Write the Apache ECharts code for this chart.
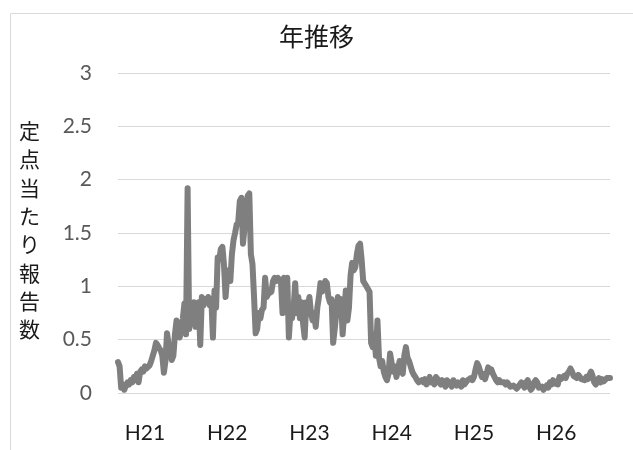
<!DOCTYPE html>
<html><head><meta charset="utf-8">
<script src="https://cdn.jsdelivr.net/npm/echarts@6/dist/echarts.min.js"></script>
<style>html,body{margin:0;padding:0;background:#fff}#c{width:633px;height:450px}</style>
</head><body><div id="c"></div>
<script>
const yearLabels = ['H21','H22','H23','H24','H25','H26'];
const weeksPerYear = 52;
const labelOffset = 17;
const yTicks = [0, 0.5, 1, 1.5, 2, 2.5, 3];
const valuesY1 = [0.29,0.25,0.05,0.08,0.03,0.07,0.1,0.08,0.12,0.1,0.15,0.12,0.18,0.1,0.2,0.22,0.2,0.25,0.23,0.22,0.26,0.3,0.35,0.4,0.47,0.45,0.42,0.4,0.35,0.19,0.3,0.56,0.45,0.4,0.31,0.35,0.55,0.68,0.58,0.52,0.6,0.7,0.84,0.55,1.92,0.6,0.8,0.65,0.85,0.62,0.78,0.85];
const valuesY2 = [0.45,0.9,0.82,0.88,0.85,0.9,0.82,0.88,0.52,0.96,0.8,1.27,1.25,1.35,1.37,1.2,0.9,1.1,1.15,1.05,1.3,1.43,1.5,1.58,1.6,1.8,1.83,1.4,1.55,1.7,1.85,1.87,1.3,1.21,0.9,0.56,0.6,0.75,0.7,0.78,0.8,1.08,0.9,0.93,0.92,0.95,1.05,1.08,1.05,1.08,1.07,1.05];
const valuesY3 = [0.75,1.08,1.05,1.08,0.52,0.75,0.7,0.8,1.03,0.75,0.9,0.7,0.85,0.65,0.52,0.85,0.8,0.9,0.75,0.68,0.75,0.62,0.8,0.9,1.03,0.95,1.0,1.05,1.03,0.9,0.85,0.88,0.47,0.6,0.75,0.9,0.85,0.88,0.55,0.75,0.96,0.68,0.8,1.1,1.22,1.15,1.18,1.3,1.38,1.4,1.25,1.05];
const valuesY4 = [1.05,1.0,1.0,0.95,0.47,0.43,0.55,0.35,0.68,0.33,0.25,0.3,0.2,0.15,0.12,0.18,0.37,0.28,0.2,0.25,0.15,0.22,0.3,0.22,0.18,0.35,0.43,0.33,0.3,0.25,0.2,0.17,0.15,0.12,0.1,0.1,0.12,0.1,0.13,0.08,0.12,0.15,0.1,0.12,0.08,0.15,0.13,0.1,0.08,0.12,0.1,0.06];
const valuesY5 = [0.12,0.08,0.1,0.06,0.12,0.09,0.07,0.1,0.11,0.06,0.12,0.08,0.1,0.12,0.13,0.14,0.12,0.15,0.22,0.28,0.25,0.2,0.15,0.18,0.13,0.18,0.24,0.2,0.22,0.18,0.15,0.12,0.1,0.12,0.1,0.09,0.1,0.08,0.1,0.08,0.06,0.05,0.07,0.06,0.04,0.06,0.08,0.1,0.07,0.05,0.1,0.12];
const valuesY6 = [0.06,0.03,0.05,0.1,0.12,0.1,0.05,0.04,0.06,0.03,0.05,0.07,0.05,0.1,0.08,0.12,0.09,0.1,0.08,0.15,0.13,0.12,0.16,0.14,0.18,0.2,0.23,0.2,0.16,0.15,0.14,0.17,0.15,0.13,0.14,0.12,0.15,0.13,0.17,0.2,0.16,0.1,0.08,0.12,0.14,0.1,0.13,0.11,0.12,0.14,0.13,0.14];

const values = [].concat(valuesY1, valuesY2, valuesY3, valuesY4, valuesY5, valuesY6);
const categories = [];
yearLabels.forEach(y => { for (let w = 0; w < weeksPerYear; w++) categories.push(y + '-' + (w + 1)); });

const chart = echarts.init(document.getElementById('c'), null, {renderer: 'canvas'});
chart.setOption({
  animation: false,
  backgroundColor: '#fff',
  title: {
    text: '年推移', left: 'center', top: 19,
    textStyle: {fontFamily: "'Noto Sans CJK JP'", fontSize: 25, fontWeight: 'normal', color: '#1a1a1a'}
  },
  graphic: [
    {type: 'rect', left: 8, top: 11, shape: {width: 700, height: 500}, style: {fill: 'none', stroke: '#d9d9d9', lineWidth: 1}, z: -1},
    {type: 'text', left: 19, top: 117, style: {text: '定\n点\n当\nた\nり\n報\n告\n数', font: "21px 'Noto Sans CJK JP'", lineHeight: 28.3, fill: '#1a1a1a', textAlign: 'left'}}
  ],
  grid: {left: 118, right: 23, top: 73, bottom: 57},
  xAxis: {
    type: 'category', data: categories, boundaryGap: false,
    axisLine: {show: false}, axisTick: {show: false}, splitLine: {show: false},
    axisLabel: {
      interval: (i) => i % weeksPerYear === labelOffset,
      formatter: (v) => v.split('-')[0],
      margin: 30, fontSize: 21, color: '#1a1a1a', fontFamily: "Lato, 'Noto Sans CJK JP'"
    }
  },
  yAxis: {
    type: 'value', min: yTicks[0], max: yTicks[yTicks.length - 1], interval: 0.5,
    axisLine: {show: false}, axisTick: {show: false},
    splitLine: {lineStyle: {color: '#d9d9d9', width: 1}},
    axisLabel: {margin: 26, fontSize: 21, color: '#595959', fontFamily: "Lato, 'Noto Sans CJK JP'"}
  },
  series: [{
    type: 'line', data: values, showSymbol: false,
    lineStyle: {color: '#7f7f7f', width: 6, join: 'round', cap: 'round'},
    itemStyle: {color: '#7f7f7f'}
  }]
});
</script></body></html>
